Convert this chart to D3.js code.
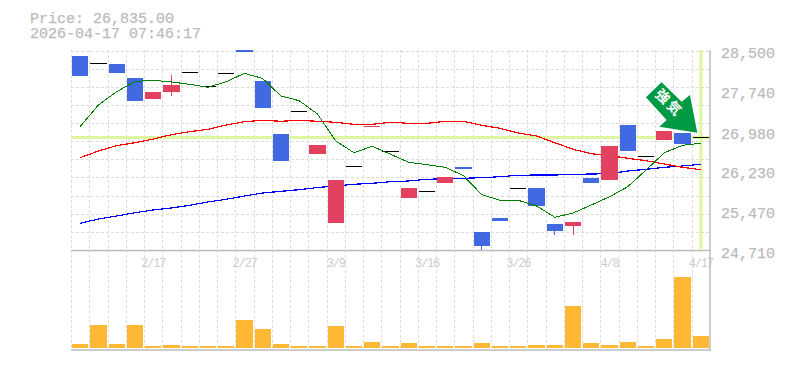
<!DOCTYPE html>
<html>
<head>
<meta charset="utf-8">
<script src="https://cdn.jsdelivr.net/npm/d3@7"></script>
<style>
  body { margin: 0; background: #fff; }
  text { font-family: "Liberation Mono", monospace; fill: #bbb; stroke: #bbb; stroke-width: 0.25px; }
</style>
</head>
<body>
<svg id="chart" width="785" height="370"></svg>
<script>
var dates = ["2/10","2/12","2/13","2/16","2/17","2/18","2/19","2/24","2/26","2/27","3/2","3/4","3/5","3/6","3/9","3/10","3/11","3/12","3/13","3/16","3/17","3/18","3/19","3/25","3/26","3/30","3/31","4/1","4/7","4/8","4/9","4/10","4/14","4/16","4/17"]
var dateTicks = ["2/17","2/27","3/9","3/16","3/26","4/8","4/17"]
var priceTicks = [24710, 25470, 26230, 26980, 27740, 28500]

var open = [28386,28254,28235,27969,27571,27704,28083,27823,28064,28500,27913,26908,27338,26529,25222,26302,27055,26586,25695,25828,25980,26283,25051,25316,25885,25885,25203,25165,26074,26037,27079,26486,26795,26933,26846]
var close = [28007,28254,28064,27534,27704,27837,28083,27823,28064,28462,27401,26397,27338,26700,26037,26302,27065,26586,25885,25828,26093,26245,24786,25260,25885,25544,25070,25241,25980,26681,26586,26486,26965,26719,26846]
var high = [28386,28254,28235,27969,27704,28026,28083,27823,28064,28500,27913,26908,27338,26700,26037,26302,27065,26586,25885,25828,26093,26283,25051,25316,25885,25885,25203,25241,26074,26681,27079,26486,26965,26933,26846]
var low = [28007,28254,28064,27534,27571,27628,28083,27823,28064,28462,27401,26397,27338,26529,25222,26302,27055,26586,25695,25828,25980,26245,24710,25260,25885,25544,24994,24994,25980,26037,26586,26486,26795,26719,26846]

var maShort = [27047,27458,27710,27903,27926,27894,27850,27793,27899,28058,27960,27628,27539,27287,26776,26554,26675,26524,26372,26326,26277,26118,25758,25652,25652,25544,25330,25411,25563,25720,25910,26226,26554,26694,26732]
var maMid = [26459,26586,26687,26743,26813,26895,26952,26997,27079,27141,27168,27149,27168,27149,27130,27092,27092,27130,27111,27111,27149,27149,27073,27016,26927,26870,26743,26618,26535,26497,26448,26402,26340,26277,26232]
var maLong = [25216,25297,25354,25417,25468,25506,25557,25620,25671,25733,25790,25822,25853,25894,25923,25955,25974,26004,26018,26050,26061,26069,26080,26099,26126,26131,26131,26144,26150,26156,26207,26239,26277,26302,26334]

var volume = [4,23,4,23,2,3,2,2,2,28,19,4,2,2,22,2,6,2,5,2,2,2,5,2,2,3,3,42,5,3,6,2,9,71,12]

var currentPrice = 26835
var priceLabel = "Price: 26,835.00"
var timeLabel = "2026-04-17 07:46:17"
var arrowLabel = "強気"

var svg = d3.select("#chart")

var xScale = d3.scaleBand()
  .domain(dates)
  .range([71, 710])
  .paddingInner(0.11)
  .paddingOuter(0.055)

var center = d => xScale(d) + xScale.bandwidth() / 2

var yScale = d3.scaleLinear()
  .domain([24710, 28500])
  .range([250, 50])

var volScale = d3.scaleLinear()
  .domain([0, 71])
  .range([348, 277])

var grid = svg.append("g")
  .attr("stroke", "#ddd")
  .attr("stroke-dasharray", "3,2")
  .attr("shape-rendering", "crispEdges")

// dashed grid lines sit on the boundaries between candles
grid.selectAll(".gx")
  .data(dates)
  .enter()
  .append("line")
  .attr("x1", d => Math.round(xScale(d) - xScale.step() * xScale.paddingInner() / 2))
  .attr("x2", d => Math.round(xScale(d) - xScale.step() * xScale.paddingInner() / 2))
  .attr("y1", 50)
  .attr("y2", 350)

grid.selectAll(".gy")
  .data(d3.range(0, 11))
  .enter()
  .append("line")
  .attr("x1", 71)
  .attr("x2", 710)
  .attr("y1", d => Math.round(50.5 + d * 18.14))
  .attr("y2", d => Math.round(50.5 + d * 18.14))

var highlight = "#e0f5a0"
svg.append("line")
  .attr("x1", 71).attr("x2", 709)
  .attr("y1", Math.round(yScale(currentPrice)) - 0.5).attr("y2", Math.round(yScale(currentPrice)) - 0.5)
  .attr("stroke", highlight).attr("stroke-width", 3)
svg.append("line")
  .attr("x1", center(dates[34])).attr("x2", center(dates[34]))
  .attr("y1", 50).attr("y2", 249)
  .attr("stroke", highlight).attr("stroke-width", 3)

var candleColor = (o, c) => o == c ? "black" : (c > o ? "#e2415f" : "#4169e1")

svg.append("g")
  .selectAll("rect")
  .data(volume)
  .enter()
  .append("rect")
  .attr("x", (d, i) => xScale(dates[i]))
  .attr("width", xScale.bandwidth())
  .attr("y", d => volScale(d))
  .attr("height", d => volScale(0) - volScale(d))
  .attr("fill", "#ffb833")
  .attr("shape-rendering", "crispEdges")

var lineGen = d3.line()
  .x((d, i) => center(dates[i]))
  .y(d => yScale(d))

svg.append("path").datum(maLong).attr("d", lineGen).attr("fill", "none").attr("stroke", "blue").attr("stroke-width", 1.2).attr("shape-rendering", "crispEdges")
svg.append("path").datum(maMid).attr("d", lineGen).attr("fill", "none").attr("stroke", "red").attr("stroke-width", 1.2).attr("shape-rendering", "crispEdges")

var candles = svg.append("g")
  .attr("shape-rendering", "crispEdges")
  .selectAll("g")
  .data(dates)
  .enter()
  .append("g")

candles.append("line")
  .attr("x1", d => center(d))
  .attr("x2", d => center(d))
  .attr("y1", (d, i) => yScale(high[i]))
  .attr("y2", (d, i) => yScale(low[i]))
  .attr("stroke", (d, i) => candleColor(open[i], close[i]))
  .attr("stroke-width", 1)

candles.append("rect")
  .attr("x", d => xScale(d))
  .attr("width", xScale.bandwidth())
  .attr("y", (d, i) => yScale(Math.max(open[i], close[i])))
  .attr("height", (d, i) => Math.max(1, Math.abs(yScale(open[i]) - yScale(close[i]))))
  .attr("fill", (d, i) => candleColor(open[i], close[i]))

svg.append("path").datum(maShort).attr("d", lineGen).attr("fill", "none").attr("stroke", "green").attr("stroke-width", 1).attr("shape-rendering", "crispEdges")

// axes
var xAxisGen = d3.axisBottom().scale(xScale).tickValues(dateTicks).tickSize(0).tickPadding(5)
var xAxis = svg.append("g")
  .call(xAxisGen)
  .style("transform", "translateY(250px)")
xAxis.select(".domain").attr("stroke", "#bbb").attr("stroke-width", 1.5)
xAxis.selectAll("text")
  .style("font-size", "12px")
  .style("letter-spacing", "-1.2px")
  .style("fill", "#ccc")
  .style("stroke", "none")
  .attr("y", 8)
  .attr("font-family", null)
  .attr("fill", null)

var yAxisGen = d3.axisRight().scale(yScale).tickValues(priceTicks).tickSize(0).tickPadding(11).tickFormat(d3.format(","))
var yAxis = svg.append("g")
  .call(yAxisGen)
  .style("transform", "translateX(710px)")
yAxis.select(".domain").remove()
yAxis.selectAll("text").style("font-size", "15px").attr("y", 3).attr("fill", null)

svg.append("line").attr("x1", 710).attr("x2", 710).attr("y1", 50).attr("y2", 350).attr("stroke", "#bbb").attr("stroke-width", 1.5)
svg.append("line").attr("x1", 71).attr("x2", 711).attr("y1", 350).attr("y2", 350).attr("stroke", "#bbb").attr("stroke-width", 1.5)

svg.append("text").attr("x", 30).attr("y", 23).style("font-size", "15px").text(priceLabel)
svg.append("text").attr("x", 30).attr("y", 38).style("font-size", "15px").text(timeLabel)

// signal arrow, tip sits on the top edge of the last but one candle
var arrow = svg.append("g")
  .attr("transform", `translate(${center(dates[33]) + 14.7},${yScale(open[33])})`)
arrow.append("polygon")
  .attr("points", "-35.7,-50.4 -51.4,-35.4 -30.7,-12.7 -38,-6 0,0 -7.4,-37.7 -15.7,-31")
  .attr("fill", "#009944")
  .attr("stroke", "white")
  .attr("stroke-width", 3)
  .attr("paint-order", "stroke")
arrow.append("text")
  .attr("x", -29)
  .attr("y", -29)
  .attr("text-anchor", "middle")
  .attr("dominant-baseline", "middle")
  .attr("transform", "rotate(45,-29,-29)")
  .style("font-family", "'Noto Sans CJK JP'")
  .style("font-weight", "bold")
  .style("font-size", "14px")
  .style("letter-spacing", "2px")
  .style("fill", "white")
  .style("stroke", "none")
  .text(arrowLabel)
</script>
</body>
</html>
